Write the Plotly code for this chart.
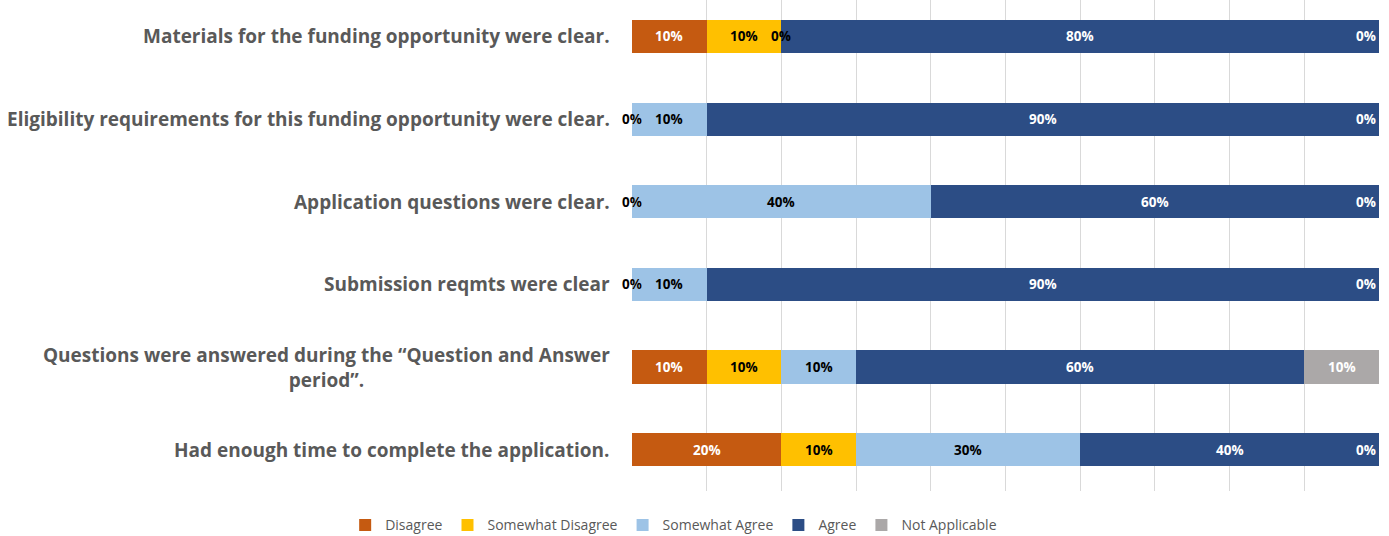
import plotly.graph_objects as go

categories = [
    "Materials for the funding opportunity were clear.",
    "Eligibility requirements for this funding opportunity were clear.",
    "Application questions were clear.",
    "Submission reqmts were clear",
    "Questions were answered during the \u201cQuestion and Answer<br>period\u201d.",
    "Had enough time to complete the application.",
]
series_names = ["Disagree", "Somewhat Disagree", "Somewhat Agree", "Agree", "Not Applicable"]
disagree = [10, 0, 0, 0, 10, 20]
somewhat_disagree = [10, 0, 0, 0, 10, 10]
somewhat_agree = [0, 10, 40, 10, 10, 30]
agree = [80, 90, 60, 90, 60, 40]
not_applicable = [0, 0, 0, 0, 10, 0]
series_values = [disagree, somewhat_disagree, somewhat_agree, agree, not_applicable]

colors = ["#C55A11", "#FFC000", "#9DC3E6", "#2C4D85", "#ABA8A8"]
label_colors = ["white", "black", "black", "white", "white"]

W, H = 1389, 536
ML, MR, MT, MB = 632, 10, 0, 45
ypos = list(range(len(categories)))

fig = go.Figure()
for name, vals, col in zip(series_names, series_values, colors):
    fig.add_trace(go.Bar(
        y=ypos, x=vals, name=name, orientation="h",
        marker=dict(color=col, line=dict(width=0)),
        width=0.4, hoverinfo="skip",
    ))

annotations = []
# value labels
for i in ypos:
    cum = 0
    for s, vals in enumerate(series_values):
        v = vals[i]
        cx = cum + v / 2
        ann = dict(x=cx, y=i, xref="x", yref="y", text=f"{v}%", showarrow=False,
                   font=dict(family="Open Sans", size=13.5, color=label_colors[s], weight="bold"),
                   xanchor="center", yanchor="middle")
        if v == 0 and cx >= 100:
            ann["xanchor"] = "right"
            ann["xshift"] = -1
        annotations.append(ann)
        cum += v

# category labels
for i, c in zip(ypos, categories):
    annotations.append(dict(x=0, y=i, xref="paper", yref="y", text=c, showarrow=False,
                            xanchor="right", yanchor="middle", align="center", xshift=-20,
                            font=dict(family="Open Sans", size=19, color="#595959", weight="bold")))

fig.update_layout(
    width=W, height=H,
    margin=dict(l=ML, r=MR, t=MT, b=MB),
    barmode="stack",
    plot_bgcolor="white", paper_bgcolor="white",
    xaxis=dict(range=[0, 100], tickvals=[0, 10, 20, 30, 40, 50, 60, 70, 80, 90],
               showticklabels=False, showgrid=True, gridcolor="#D9D9D9", gridwidth=1,
               zeroline=False, showline=False, fixedrange=True),
    yaxis=dict(range=[5.5, -0.44], showticklabels=False, showgrid=False, zeroline=False,
               showline=False, fixedrange=True),
    legend=dict(orientation="h", xref="container", yref="container", x=0.485, y=0.02,
                xanchor="center", yanchor="middle",
                font=dict(family="Open Sans", size=14, color="#595959"),
                itemwidth=30, traceorder="normal"),
    annotations=annotations,
    font=dict(family="Open Sans"),
)

fig.write_html("out.html")
